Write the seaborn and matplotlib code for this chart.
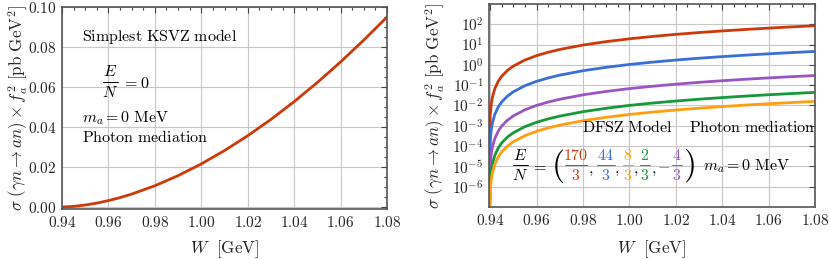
import matplotlib
matplotlib.use("Agg")
import matplotlib.pyplot as plt
from matplotlib.lines import Line2D
from matplotlib.ticker import MultipleLocator, FixedLocator, FuncFormatter, NullLocator
import numpy as np
import pandas as pd
import seaborn as sns

# ---- left panel: simplest KSVZ model (E/N = 0), linear scale ----
w_ksvz = [0.94, 0.945, 0.95, 0.955, 0.96, 0.965, 0.97, 0.98, 0.99, 1.00,
          1.01, 1.02, 1.03, 1.04, 1.05, 1.06, 1.07, 1.08]
sigma_ksvz = [0.0, 0.00031, 0.00098, 0.00195, 0.00320, 0.00470, 0.00644,
              0.01062, 0.01567, 0.02155, 0.02821, 0.03564, 0.04379, 0.05268,
              0.06226, 0.07252, 0.08346, 0.0950]

# ---- right panel: DFSZ model, log scale (first point = threshold) ----
w_dfsz = [0.93957, 0.9400, 0.9405, 0.9410, 0.9420, 0.9435, 0.9450, 0.9475,
          0.9500, 0.9550, 0.9600, 0.9650, 0.9700, 0.9800, 0.9900, 1.0000,
          1.0100, 1.0200, 1.0300, 1.0400, 1.0500, 1.0600, 1.0700, 1.0800]
sigma_170_3 = [1e-9, 3.2e-3, 0.0125, 0.0265, 0.0674, 0.157, 0.278, 0.541,
               0.876, 1.74, 2.86, 4.20, 5.76, 9.50, 14.0, 19.3,
               25.2, 31.9, 39.2, 47.1, 55.7, 64.9, 74.7, 85.0]
sigma_44_3 = [1e-9, 1.74e-4, 6.75e-4, 1.44e-3, 3.66e-3, 8.53e-3, 0.0151, 0.0293,
              0.0475, 0.0946, 0.155, 0.228, 0.313, 0.516, 0.760, 1.05,
              1.37, 1.73, 2.13, 2.56, 3.02, 3.52, 4.05, 4.61]
sigma_m4_3 = [1e-9, 1.13e-5, 4.39e-5, 9.34e-5, 2.37e-4, 5.54e-4, 9.78e-4, 1.90e-3,
              3.08e-3, 6.14e-3, 0.0101, 0.0148, 0.0203, 0.0335, 0.0494, 0.0679,
              0.0889, 0.112, 0.138, 0.166, 0.196, 0.229, 0.263, 0.300]
sigma_2_3 = [1e-9, 1.67e-6, 6.49e-6, 1.38e-5, 3.51e-5, 8.19e-5, 1.45e-4, 2.82e-4,
             4.56e-4, 9.09e-4, 1.49e-3, 2.19e-3, 3.00e-3, 4.95e-3, 7.31e-3, 0.0101,
             0.0132, 0.0166, 0.0204, 0.0246, 0.0290, 0.0338, 0.0389, 0.0443]
sigma_8_3 = [1e-9, 6.0e-7, 2.34e-6, 4.97e-6, 1.26e-5, 2.95e-5, 5.21e-5, 1.01e-4,
             1.64e-4, 3.27e-4, 5.36e-4, 7.88e-4, 1.08e-3, 1.78e-3, 2.63e-3, 3.62e-3,
             4.74e-3, 5.98e-3, 7.35e-3, 8.84e-3, 0.0105, 0.0122, 0.0140, 0.0160]

series_names = ["170/3", "44/3", "-4/3", "2/3", "8/3"]
series_values = [sigma_170_3, sigma_44_3, sigma_m4_3, sigma_2_3, sigma_8_3]
colors = {"170/3": "#cc3a0c", "44/3": "#3a6fd8", "8/3": "#ff9e10",
          "2/3": "#17993a", "-4/3": "#9a55c4"}

dfsz = pd.concat([pd.DataFrame({"W": w_dfsz, "sigma": v, "EN": n})
                  for n, v in zip(series_names, series_values)])
ksvz = pd.DataFrame({"W": w_ksvz, "sigma": sigma_ksvz})

sns.set_style("white")
plt.rcParams.update({
    "mathtext.fontset": "cm",
    "font.family": ["DejaVu Serif"],
    "axes.edgecolor": "#555555",
    "axes.linewidth": 1.2,
    "xtick.direction": "in",
    "ytick.direction": "in",
})

FW, FH = 830, 259
fig = plt.figure(figsize=(8.3, 2.59), dpi=100)
ax1 = fig.add_axes([62 / FW, 1 - 209 / FH, 325 / FW, 202 / FH])
ax2 = fig.add_axes([489 / FW, 1 - 207 / FH, 326 / FW, 203 / FH])

lw = 2.0
sns.lineplot(data=ksvz, x="W", y="sigma", ax=ax1, color=colors["170/3"],
             lw=lw, sort=False)
ax2.set_yscale("log")
sns.lineplot(data=dfsz, x="W", y="sigma", hue="EN", palette=colors, ax=ax2,
             lw=lw, sort=False, legend=False)

fs_tick = 11
fs_txt = 11.5
fs_lab = 12.3
ylab = r"$\sigma\ (\gamma n \to a n) \times f_a^2\ [\mathrm{pb\ GeV}^2]$"
xlab = r"$W\ \ [\mathrm{GeV}]$"

for ax in (ax1, ax2):
    ax.set_axisbelow(True)
    ax.grid(True, which="major", color="#c8c8c8", lw=0.8)
    ax.xaxis.set_major_locator(MultipleLocator(0.02))
    ax.xaxis.set_minor_locator(MultipleLocator(0.005))
    ax.xaxis.set_major_formatter(FuncFormatter(lambda v, p: rf"${v:.2f}$"))
    ax.tick_params(which="both", top=True, right=True, color="#444444",
                   labelsize=fs_tick, width=0.8)
    ax.tick_params(which="major", length=4, pad=4)
    ax.tick_params(which="minor", length=2.2)
    ax.set_xlabel(xlab, fontsize=fs_lab)
    ax.set_ylabel(ylab, fontsize=fs_lab)
    for s in ax.spines.values():
        s.set_color("#555555")

ax1.set_xlim(0.94, 1.08)
ax1.set_ylim(-0.001, 0.1)
ax1.yaxis.set_major_locator(MultipleLocator(0.02))
ax1.yaxis.set_minor_locator(MultipleLocator(0.005))
ax1.yaxis.set_major_formatter(FuncFormatter(lambda v, p: rf"${v:.2f}$"))
ax1.yaxis.set_label_coords(-0.1, 0.5)
ax1.xaxis.set_label_coords(0.5, -0.144)

ax2.set_xlim(0.9395, 1.08)
ax2.set_ylim(1e-7, 1e3)
ax2.yaxis.set_major_locator(FixedLocator([10.0 ** k for k in range(-6, 3)]))
ax2.yaxis.set_minor_locator(NullLocator())
ax2.yaxis.set_major_formatter(
    FuncFormatter(lambda v, p: rf"$10^{{{int(round(np.log10(v)))}}}$"))
ax2.yaxis.set_label_coords(-0.128, 0.5)
ax2.xaxis.set_label_coords(0.5, -0.153)


def put(x, y, s, color="black", size=fs_txt, ha="center", va="center"):
    fig.text(x / FW, 1 - y / FH, s, color=color, fontsize=size, ha=ha, va=va)


def frac(xc, ybar, num, den, half, color="black"):
    # display-style fraction: numerator, bar, denominator
    put(xc, ybar - 10, num, color)
    put(xc, ybar + 10.5, den, color)
    fig.add_artist(Line2D([(xc - half) / FW, (xc + half) / FW],
                          [1 - ybar / FH] * 2, transform=fig.transFigure,
                          color=color, lw=0.7))


# left panel annotations
put(82, 37, r"$\mathrm{Simplest\ KSVZ\ model}$", ha="left")
frac(110, 81.7, r"$E$", r"$N$", 7.5)
put(122, 83, r"$= 0$", ha="left")
put(82, 118, r"$m_a = 0\ \mathrm{MeV}$", ha="left")
put(82, 138, r"$\mathrm{Photon\ mediation}$", ha="left")

# right panel annotations
put(582, 128, r"$\mathrm{DFSZ\ Model}$", ha="left")
put(689, 128, r"$\mathrm{Photon\ mediation}$", ha="left")
frac(520.5, 165, r"$E$", r"$N$", 7.5)
put(539, 166, r"$=$")
put(558, 166, r"$($", size=24)
frac(576, 165, r"$170$", r"$3$", 11, colors["170/3"])
put(590.5, 170, r"$,$")
frac(606, 165, r"$44$", r"$3$", 9, colors["44/3"])
put(617, 170, r"$,$")
frac(628, 165, r"$8$", r"$3$", 5, colors["8/3"])
put(636, 170, r"$,$")
frac(645, 165, r"$2$", r"$3$", 5, colors["2/3"])
put(654, 170, r"$,$")
put(663.5, 165.5, r"$-$", color=colors["-4/3"])
frac(676.7, 165, r"$4$", r"$3$", 5, colors["-4/3"])
put(688.5, 166, r"$)$", size=24)
put(703, 166, r"$m_a = 0\ \mathrm{MeV}$", ha="left")

fig.savefig("out.png", dpi=100)
